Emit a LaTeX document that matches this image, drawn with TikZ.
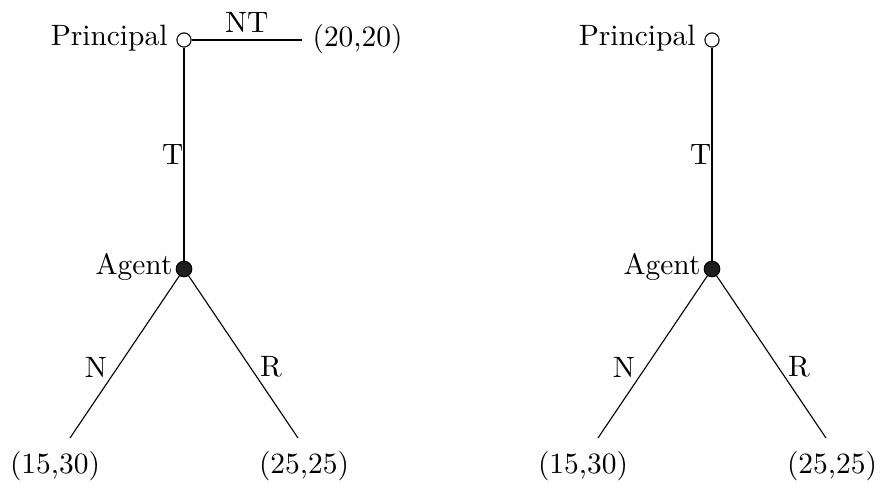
\documentclass[tikz,border=0pt]{standalone}
\begin{document}
\begin{tikzpicture}[x=0.36pt,y=-0.36pt,
  font=\fontsize{10.6}{13}\selectfont,
  opennode/.style={circle,draw,fill=white,inner sep=0pt,minimum size=5.1pt,line width=0.4pt},
  filnode/.style={circle,draw,fill=black!88,inner sep=0pt,minimum size=5.6pt,line width=0.4pt},
  lbl/.style={inner sep=0pt},
  edge/.style={line width=0.4pt}]
\useasboundingbox (0,0) rectangle (881,489);
% left tree
\node[opennode] (p1) at (184,40) {};
\node[lbl,anchor=east] (p1l) at (168,38) {Principal};
\coordinate (nt1) at (302,40);
\node[lbl,anchor=west] (o1) at (312,39) {(20,20)};
\node[filnode] (a1) at (184,269) {};
\node[lbl,anchor=east] (a1l) at (173,267) {Agent};
\coordinate (l1) at (70,438);
\coordinate (r1) at (298,438);
\node[lbl] (l1t) at (55,466) {(15,30)};
\node[lbl] (r1t) at (304,466) {(25,25)};
\draw[edge] (p1) -- node[above=2.5pt,inner sep=0pt] {NT} (nt1);
\draw[edge] (p1) -- node[left=0pt,inner sep=0pt] {T} (a1);
\draw[edge] (a1) -- (l1);
\draw[edge] (a1) -- (r1);
\node[lbl] (n1) at (96,367) {N};
\node[lbl] (rr1) at (271,367) {R};
% right tree
\node[opennode] (p2) at (712,40) {};
\node[lbl,anchor=east] (p2l) at (696,38) {Principal};
\node[filnode] (a2) at (712,269) {};
\node[lbl,anchor=east] (a2l) at (701,267) {Agent};
\coordinate (l2) at (598,438);
\coordinate (r2) at (826,438);
\node[lbl] (l2t) at (583,466) {(15,30)};
\node[lbl] (r2t) at (832,466) {(25,25)};
\draw[edge] (p2) -- node[left=0pt,inner sep=0pt] {T} (a2);
\draw[edge] (a2) -- (l2);
\draw[edge] (a2) -- (r2);
\node[lbl] (n2) at (624,367) {N};
\node[lbl] (rr2) at (799,367) {R};
\end{tikzpicture}
\end{document}
